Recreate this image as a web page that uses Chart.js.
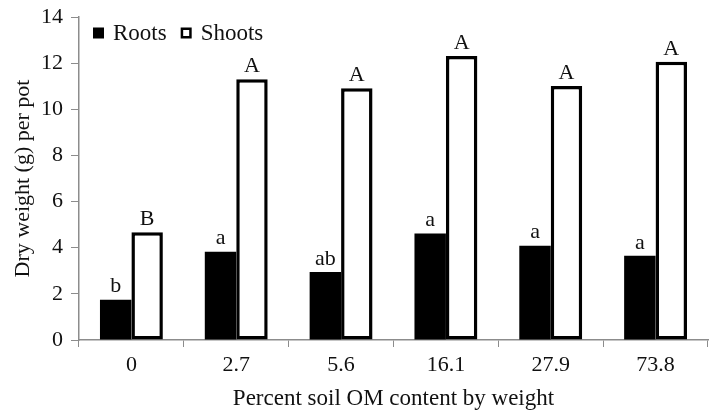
<!DOCTYPE html>
<html>
<head>
<meta charset="utf-8">
<script src="https://cdn.jsdelivr.net/npm/chart.js@4/dist/chart.umd.min.js"></script>
<style>
  html, body { margin: 0; padding: 0; background: #fff; }
  #wrap { width: 715px; height: 413px; }
</style>
</head>
<body>
<div id="wrap"><canvas id="chart" width="715" height="413"></canvas></div>
<script>
  const CATEGORIES = ['0', '2.7', '5.6', '16.1', '27.9', '73.8'];
  const ROOTS = [1.75, 3.83, 2.95, 4.62, 4.09, 3.65];
  const SHOOTS = [4.67, 11.3, 10.91, 12.31, 11.01, 12.06];
  const ROOT_LETTERS = ['b', 'a', 'ab', 'a', 'a', 'a'];
  const SHOOT_LETTERS = ['B', 'A', 'A', 'A', 'A', 'A'];
  const Y_TICKS = [0, 2, 4, 6, 8, 10, 12, 14];

  const SERIF = '"Liberation Serif", "Times New Roman", serif';
  const AXIS_GREY = '#8c8c8c';

  // letters drawn just above each bar
  const letterPlugin = {
    id: 'letters',
    afterDatasetsDraw(chart) {
      const ctx = chart.ctx;
      const sets = [ROOT_LETTERS, SHOOT_LETTERS];
      ctx.save();
      ctx.font = '22px ' + SERIF;
      ctx.fillStyle = '#111';
      ctx.textAlign = 'center';
      ctx.textBaseline = 'bottom';
      sets.forEach((letters, di) => {
        chart.getDatasetMeta(di).data.forEach((bar, i) => {
          ctx.fillText(letters[i], bar.x, bar.y - 2);
        });
      });
      ctx.restore();
    },
  };

  // one-row legend inside the plot, top left
  const rowLegend = {
    id: 'rowLegend',
    afterDraw(chart) {
      const ctx = chart.ctx;
      const area = chart.chartArea;
      let x = area.left + 14;
      const cy = area.top + 16;
      ctx.save();
      ctx.font = '23px ' + SERIF;
      ctx.textBaseline = 'middle';
      ctx.textAlign = 'left';
      chart.data.datasets.forEach((ds) => {
        const box = 11;
        ctx.fillStyle = ds.backgroundColor;
        ctx.fillRect(x, cy - box / 2, box, box);
        if (ds.borderWidth) {
          ctx.lineWidth = 2.5;
          ctx.strokeStyle = ds.borderColor;
          ctx.strokeRect(x + 1.25, cy - box / 2 + 1.25, box - 2.5, box - 2.5);
        }
        x += box + 9;
        ctx.fillStyle = '#111';
        ctx.fillText(ds.label, x, cy + 1);
        x += ctx.measureText(ds.label).width + 14;
      });
      ctx.restore();
    },
  };

  new Chart(document.getElementById('chart'), {
    type: 'bar',
    data: {
      labels: CATEGORIES,
      datasets: [
        {
          label: 'Roots',
          data: ROOTS,
          backgroundColor: '#000',
          borderColor: '#000',
          borderWidth: 0,
          categoryPercentage: 0.6,
          barPercentage: 1.0,
        },
        {
          label: 'Shoots',
          data: SHOOTS,
          backgroundColor: '#fff',
          borderColor: '#000',
          borderWidth: 3.5,
          borderSkipped: false,
          categoryPercentage: 0.6,
          barPercentage: 1.0,
        },
      ],
    },
    options: {
      responsive: false,
      animation: false,
      layout: { padding: { top: 17, right: 7, left: 0, bottom: 0 } },
      plugins: {
        tooltip: { enabled: false },
        legend: { display: false },
      },
      scales: {
        x: {
          grid: { drawOnChartArea: false, drawTicks: true, tickLength: 7, color: AXIS_GREY, offset: true },
          border: { color: AXIS_GREY, width: 1.5 },
          ticks: { color: '#111', font: { family: SERIF, size: 22 }, padding: 5 },
          title: {
            display: true,
            text: 'Percent soil OM content by weight',
            color: '#111',
            font: { family: SERIF, size: 23 },
            padding: { top: 1, bottom: 0 },
          },
          afterFit(scale) { scale.height = 73; },
        },
        y: {
          min: 0,
          max: 14,
          afterBuildTicks(scale) { scale.ticks = Y_TICKS.map((v) => ({ value: v })); },
          grid: { drawOnChartArea: false, drawTicks: true, tickLength: 8, color: AXIS_GREY },
          border: { color: AXIS_GREY, width: 1.5 },
          ticks: { color: '#111', font: { family: SERIF, size: 22 }, padding: 8 },
          title: {
            display: true,
            text: 'Dry weight (g) per pot',
            color: '#111',
            font: { family: SERIF, size: 22 },
            padding: { top: 10, bottom: 4 },
          },
          afterFit(scale) {
            scale.width = 79;
            scale.paddingTop = 0;
          },
        },
      },
    },
    plugins: [letterPlugin, rowLegend],
  });
</script>
</body>
</html>
